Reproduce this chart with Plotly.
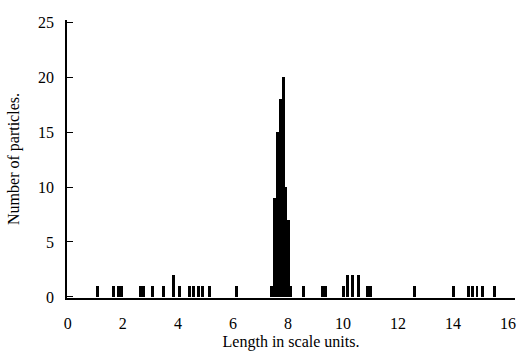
import plotly.graph_objects as go

# Bin centres (scale units) and particle counts
lengths = [1.08, 1.66, 1.84, 1.95, 2.64, 2.75, 3.08, 3.47, 3.84, 4.06, 4.42, 4.57,
           4.75, 4.89, 5.15, 6.13,
           7.39, 7.50, 7.61, 7.72, 7.83, 7.93, 8.02, 8.10,
           8.56, 9.25, 9.36, 10.01, 10.16, 10.36, 10.57, 10.88, 10.99,
           12.59, 14.00, 14.55, 14.69, 14.87, 15.06, 15.49]
counts = [1, 1, 1, 1, 1, 1, 1, 1, 2, 1, 1, 1,
          1, 1, 1, 1,
          1, 9, 15, 18, 20, 10, 7, 1,
          1, 1, 1, 1, 2, 2, 2, 1, 1,
          1, 1, 1, 1, 1, 1, 1]

x_ticks = [0, 2, 4, 6, 8, 10, 12, 14, 16]
y_ticks = [0, 5, 10, 15, 20, 25]

FONT = "Liberation Serif"

fig = go.Figure(go.Bar(
    x=lengths, y=counts, width=0.105,
    marker=dict(color="black", line=dict(width=0)),
))

fig.update_layout(
    width=521, height=358,
    margin=dict(l=67, r=6, t=20, b=60),
    plot_bgcolor="white", paper_bgcolor="white",
    font=dict(family=FONT, color="black", size=16),
    showlegend=False,
    bargap=0,
)
fig.update_xaxes(
    range=[-0.03, 16.25],
    tickvals=x_ticks, ticktext=[str(v) for v in x_ticks],
    showline=True, linecolor="black", linewidth=2,
    ticks="", showgrid=False, zeroline=False,
    ticklabelstandoff=10, automargin=False,
    title=dict(text="Length in scale units.", font=dict(size=16, family=FONT), standoff=5),
)
fig.update_yaxes(
    range=[-0.1, 25.2],
    tickvals=y_ticks, ticktext=[str(v) for v in y_ticks],
    showline=True, linecolor="black", linewidth=1.5,
    ticks="inside", ticklen=6, tickwidth=1.2, tickcolor="black",
    showgrid=False, zeroline=False,
    ticklabelstandoff=8, automargin=False,
    title=dict(text="Number of particles.", font=dict(size=16, family=FONT), standoff=14),
)

fig.write_html(
    "out.html",
    config={"displayModeBar": False},
    post_script="document.body.style.margin='0';document.body.style.overflow='hidden';",
)
